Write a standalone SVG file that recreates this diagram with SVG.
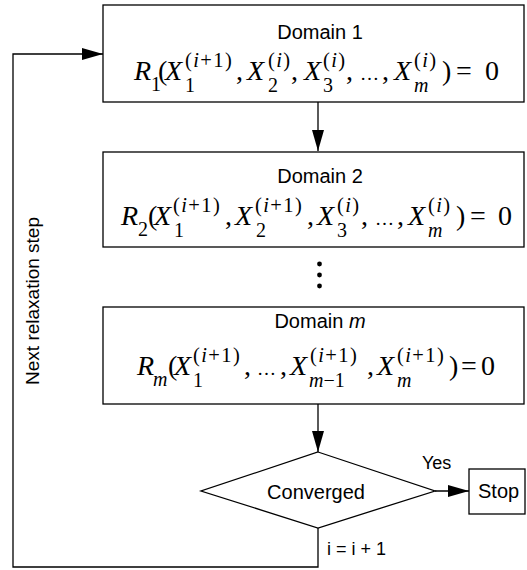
<svg xmlns="http://www.w3.org/2000/svg" width="527" height="570" viewBox="0 0 527 570">
<defs>
<style>
.box{fill:#fff;stroke:#000;stroke-width:1.3}
.ln{fill:none;stroke:#000;stroke-width:1.3}
.t{font-family:"Liberation Sans",Arial,sans-serif;font-size:20px;fill:#000}
.ts{font-family:"Liberation Sans",Arial,sans-serif;font-size:18px;fill:#000}
.m{font-family:"Liberation Serif","Times New Roman",serif;font-size:28px;fill:#000}
.s{font-size:20px}
.p{font-size:20.5px;letter-spacing:1.4px}
.e{font-size:19px}
.i{font-style:italic}
</style>
<marker id="ah" markerUnits="userSpaceOnUse" markerWidth="22" markerHeight="12" refX="21" refY="6" orient="auto">
<path d="M0,0 L21,6 L0,12 Z" fill="#000"/>
</marker>
</defs>
<rect width="527" height="570" fill="#fff"/>

<g id="connectors">
<line class="ln" x1="318" y1="102" x2="318" y2="151" marker-end="url(#ah)"/>
<line class="ln" x1="318" y1="404" x2="318" y2="452" marker-end="url(#ah)"/>
<line class="ln" x1="435" y1="491" x2="469" y2="491" marker-end="url(#ah)"/>
<polyline class="ln" points="318,528 318,567 13,567 13,54 103,54" marker-end="url(#ah)"/>
<text class="ts" x="422" y="469">Yes</text>
<text class="ts" x="327" y="555">i = i + 1</text>
<text class="t" transform="translate(39,301) rotate(-90)" text-anchor="middle" style="font-size:19px">Next relaxation step</text>
</g>

<g id="domain1">
<rect class="box" x="103" y="5" width="421" height="97"/>
<text class="t" x="320" y="39" text-anchor="middle">Domain 1</text>
<g class="m">
<text class="i" x="134" y="80">R</text>
<text class="s" x="151" y="91">1</text>
<text x="158" y="80">(</text>
<text class="i" x="165" y="80">X</text>
<text class="p" x="185" y="67">(<tspan class="i">i</tspan>+1)</text>
<text class="s" x="185" y="92">1</text>
<text x="236" y="80">,</text>
<text class="i" x="247" y="80">X</text>
<text class="p" x="268" y="67">(<tspan class="i">i</tspan>)</text>
<text class="s" x="268" y="92">2</text>
<text x="291" y="80">,</text>
<text class="i" x="304" y="80">X</text>
<text class="p" x="323" y="67">(<tspan class="i">i</tspan>)</text>
<text class="s" x="323" y="92">3</text>
<text x="346" y="80">,</text>
<text class="e" x="360" y="80">…</text>
<text x="382" y="80">,</text>
<text class="i" x="394" y="80">X</text>
<text class="p" x="414" y="67">(<tspan class="i">i</tspan>)</text>
<text class="s i" x="414" y="92">m</text>
<text x="442" y="80">)</text>
<text x="456" y="80">=</text>
<text x="485" y="80">0</text>
</g>
</g>

<g id="domain2">
<rect class="box" x="103" y="152" width="421" height="95"/>
<text class="t" x="320" y="183" text-anchor="middle">Domain 2</text>
<g class="m">
<text class="i" x="121" y="225">R</text>
<text class="s" x="138" y="236">2</text>
<text x="148" y="225">(</text>
<text class="i" x="154" y="225">X</text>
<text class="p" x="173" y="212">(<tspan class="i">i</tspan>+1)</text>
<text class="s" x="174" y="237">1</text>
<text x="225" y="225">,</text>
<text class="i" x="235" y="225">X</text>
<text class="p" x="255" y="212">(<tspan class="i">i</tspan>+1)</text>
<text class="s" x="256" y="237">2</text>
<text x="307" y="225">,</text>
<text class="i" x="317" y="225">X</text>
<text class="p" x="337" y="212">(<tspan class="i">i</tspan>)</text>
<text class="s" x="337" y="237">3</text>
<text x="361" y="225">,</text>
<text class="e" x="375" y="225">…</text>
<text x="397" y="225">,</text>
<text class="i" x="408" y="225">X</text>
<text class="p" x="428" y="212">(<tspan class="i">i</tspan>)</text>
<text class="s i" x="428" y="237">m</text>
<text x="456" y="225">)</text>
<text x="470" y="225">=</text>
<text x="498" y="225">0</text>
</g>
</g>

<g id="domainm">
<rect class="box" x="103" y="307" width="421" height="97"/>
<text class="t" x="320" y="328" text-anchor="middle">Domain <tspan font-style="italic">m</tspan></text>
<g class="m">
<text class="i" x="137" y="375">R</text>
<text class="s i" x="153" y="386">m</text>
<text x="168" y="375">(</text>
<text class="i" x="174" y="375">X</text>
<text class="p" x="193" y="362">(<tspan class="i">i</tspan>+1)</text>
<text class="s" x="193" y="387">1</text>
<text x="244" y="375">,</text>
<text class="e" x="257" y="375">…</text>
<text x="280" y="375">,</text>
<text class="i" x="290" y="375">X</text>
<text class="p" x="310" y="362">(<tspan class="i">i</tspan>+1)</text>
<text class="s" x="309" y="387"><tspan class="i">m</tspan>−1</text>
<text x="367" y="375">,</text>
<text class="i" x="377" y="375">X</text>
<text class="p" x="397" y="362">(<tspan class="i">i</tspan>+1)</text>
<text class="s i" x="397" y="387">m</text>
<text x="449" y="375">)</text>
<text x="461" y="375">=</text>
<text x="481" y="375">0</text>
</g>
</g>

<g id="dots">
<circle cx="319.5" cy="264" r="2.4"/>
<circle cx="319.5" cy="275" r="2.4"/>
<circle cx="319.5" cy="286" r="2.4"/>
</g>

<g id="converged">
<polygon class="box" points="318,452 435,491 318,528 201,491"/>
<text class="t" x="316" y="499" text-anchor="middle">Converged</text>
</g>

<g id="stop">
<rect class="box" x="469" y="469" width="56" height="45"/>
<text class="t" x="478" y="498">Stop</text>
</g>
</svg>
